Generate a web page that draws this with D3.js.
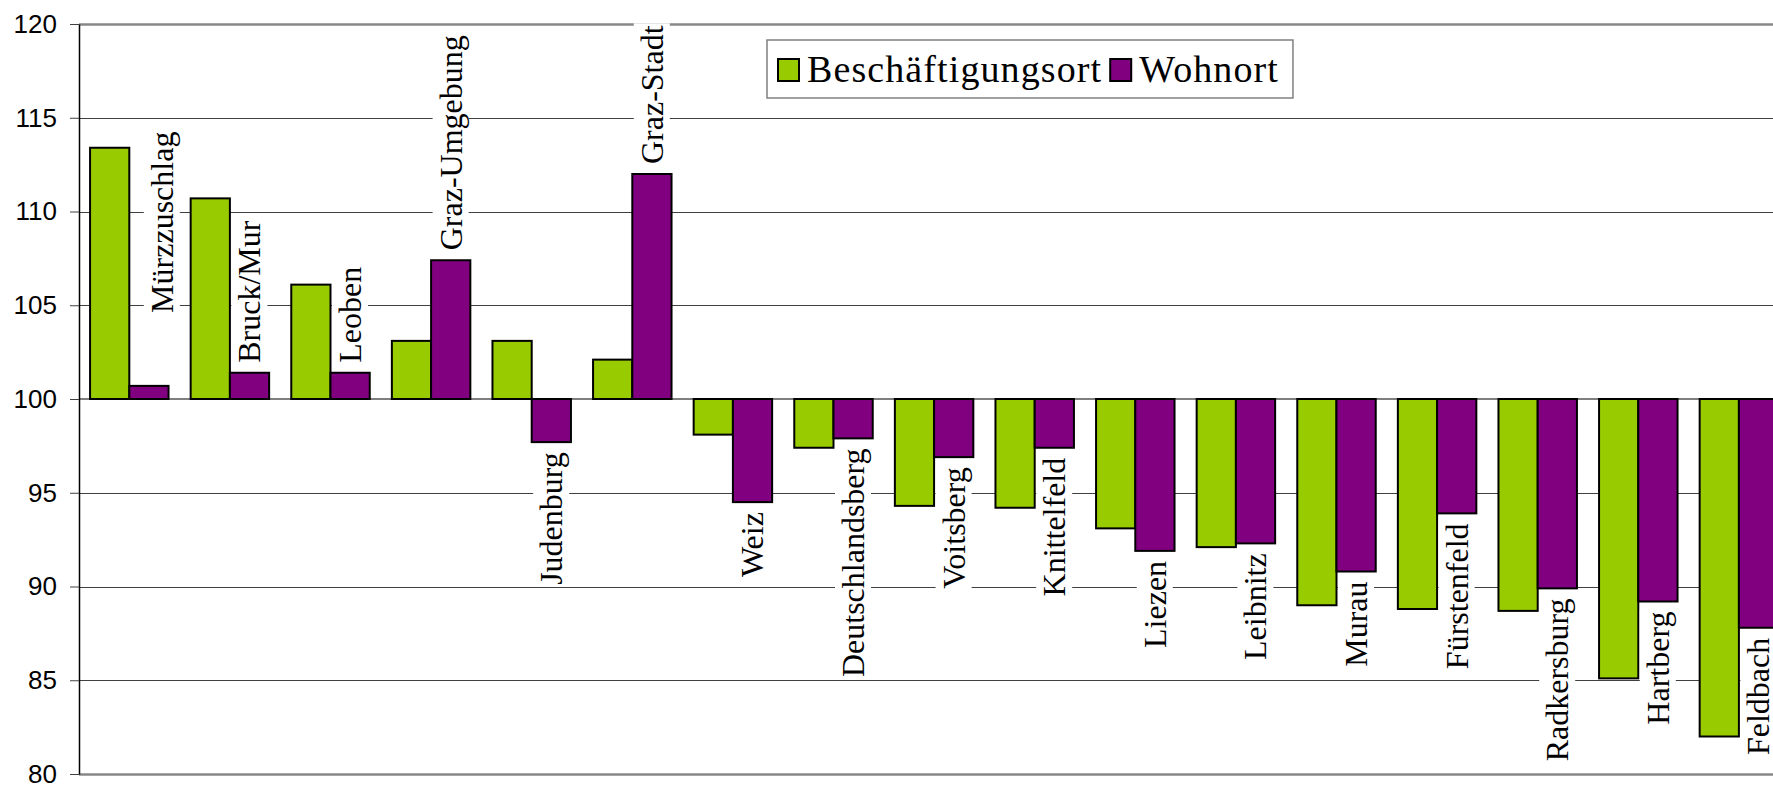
<!DOCTYPE html>
<html>
<head>
<meta charset="utf-8">
<script src="https://cdn.jsdelivr.net/npm/d3@7"></script>
<style>
  html, body { margin: 0; padding: 0; background: #fff; overflow: hidden; }
</style>
</head>
<body>
<div id="chart"></div>
<script>
// Bezirke der Steiermark, Index (100 = Landesschnitt)
const categories = ["Mürzzuschlag", "Bruck/Mur", "Leoben", "Graz-Umgebung", "Judenburg", "Graz-Stadt",
  "Weiz", "Deutschlandsberg", "Voitsberg", "Knittelfeld", "Liezen", "Leibnitz", "Murau",
  "Fürstenfeld", "Radkersburg", "Hartberg", "Feldbach"];
const beschaeftigungsort = [113.4, 110.7, 106.1, 103.1, 103.1, 102.1, 98.1, 97.4, 94.3, 94.2,
  93.1, 92.1, 89.0, 88.8, 88.7, 85.1, 82.0];
const wohnort = [100.7, 101.4, 101.4, 107.4, 97.7, 112.0, 94.5, 97.9, 96.9, 97.4,
  91.9, 92.3, 90.8, 93.9, 89.9, 89.2, 87.8];
const seriesNames = ["Beschäftigungsort", "Wohnort"];
const yTicks = [80, 85, 90, 95, 100, 105, 110, 115, 120];
const baseValue = 100;

const colors = { "Beschäftigungsort": "#99cc00", "Wohnort": "#800080" };

const width = 1773, height = 786;
const plot = { left: 79, top: 24, bottom: 774, right: 79 + 17 * 100.6 }; // plot runs off the right edge

const svg = d3.select("#chart").append("svg")
    .attr("width", width)
    .attr("height", height)
    .style("display", "block");

const y = d3.scaleLinear().domain([80, 120]).range([plot.bottom, plot.top]);
const x0 = d3.scaleBand().domain(categories).range([plot.left, plot.right])
    .paddingInner(0.22).paddingOuter(0.11);
const x1 = d3.scaleBand().domain(seriesNames).range([0, x0.bandwidth()]);

// gridlines
svg.append("g")
  .selectAll("line")
  .data(yTicks.filter(t => t !== baseValue))
  .join("line")
    .attr("x1", plot.left).attr("x2", width)
    .attr("y1", d => Math.round(y(d)) + 0.5).attr("y2", d => Math.round(y(d)) + 0.5)
    .attr("stroke", d => (d === 80 || d === 120) ? "#888" : "#404040")
    .attr("stroke-width", d => (d === 80 || d === 120) ? 2.5 : 1);

// bars
const rows = categories.map((c, i) => ({ cat: c, vals: [beschaeftigungsort[i], wohnort[i]] }));
const groups = svg.append("g")
  .selectAll("g")
  .data(rows)
  .join("g")
    .attr("transform", d => "translate(" + x0(d.cat) + ",0)");

groups.selectAll("rect")
  .data(d => d.vals.map((v, k) => ({ key: seriesNames[k], v: v })))
  .join("rect")
    .attr("x", d => x1(d.key))
    .attr("width", x1.bandwidth())
    .attr("y", d => y(Math.max(d.v, baseValue)))
    .attr("height", d => Math.abs(y(d.v) - y(baseValue)))
    .attr("fill", d => colors[d.key])
    .attr("stroke", "#000")
    .attr("stroke-width", 2);

// base line at 100
svg.append("line")
    .attr("x1", plot.left).attr("x2", width)
    .attr("y1", y(baseValue)).attr("y2", y(baseValue))
    .attr("stroke", "#000").attr("stroke-width", 1.2);

// y axis
const yAxis = svg.append("g")
    .attr("transform", "translate(" + plot.left + ",0)")
    .call(d3.axisLeft(y).tickValues(yTicks).tickSize(9).tickSizeOuter(0).tickPadding(13));
yAxis.select(".domain").attr("stroke", "#000").attr("stroke-width", 1.5);
yAxis.selectAll(".tick line").attr("stroke", "#404040");
yAxis.selectAll(".tick text")
    .attr("font-family", "Liberation Sans, Arial, sans-serif")
    .attr("font-size", 26)
    .attr("fill", "#000");

// category labels, sitting on the end of the Wohnort bar
const labelNudge = { "Mürzzuschlag": [13, -63] };
const labels = svg.append("g")
  .selectAll("g")
  .data(rows)
  .join("g")
    .attr("transform", d => {
      const cx = x0(d.cat) + x1("Wohnort") + x1.bandwidth() / 2;
      const v = d.vals[1];
      const ay = v >= baseValue ? y(v) - 10 : y(v) + 10;
      const n = labelNudge[d.cat] || [0, 0];
      return "translate(" + (cx + n[0]) + "," + (ay + n[1]) + ") rotate(-90)";
    });

labels.append("text")
    .attr("font-family", "Liberation Serif, Times New Roman, serif")
    .attr("font-size", 32)
    .attr("dy", "0.34em")
    .attr("text-anchor", d => d.vals[1] >= baseValue ? "start" : "end")
    .text(d => d.cat);

labels.each(function() {
  const g = d3.select(this);
  const bb = g.select("text").node().getBBox();
  g.insert("rect", "text")
      .attr("x", bb.x - 2).attr("y", bb.y)
      .attr("width", bb.width + 4).attr("height", bb.height)
      .attr("fill", "#fff");
});

// legend
const legend = svg.append("g").attr("transform", "translate(767,40)");
const legendBox = legend.append("rect")
    .attr("width", 511).attr("height", 58)
    .attr("fill", "#fff").attr("stroke", "#808080").attr("stroke-width", 1.5);

let lx = 11;
seriesNames.forEach(name => {
  legend.append("rect")
      .attr("x", lx).attr("y", 19)
      .attr("width", 21).attr("height", 22)
      .attr("fill", colors[name]).attr("stroke", "#000").attr("stroke-width", 2);
  const t = legend.append("text")
      .attr("x", lx + 29).attr("y", 42)
      .attr("font-family", "Liberation Serif, Times New Roman, serif")
      .attr("font-size", 38)
      .attr("letter-spacing", 1.1)
      .text(name);
  lx += 29 + t.node().getComputedTextLength() + 8;
});
legendBox.attr("width", lx + 6);
</script>
</body>
</html>
